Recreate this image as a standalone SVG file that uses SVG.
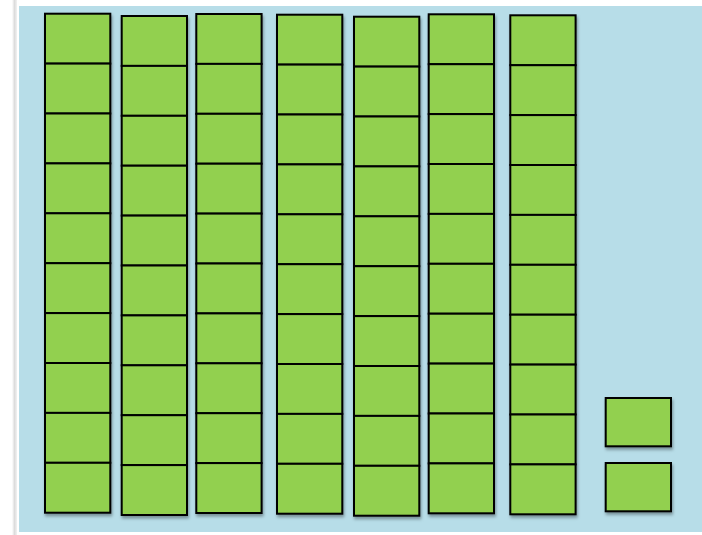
<svg xmlns="http://www.w3.org/2000/svg" width="702" height="535" viewBox="0 0 702 535">
<defs>
<style>
.cell{fill:#92D050;stroke:#000;stroke-width:2}
</style>
<filter id="sh" x="-10%" y="-10%" width="130%" height="130%">
<feDropShadow dx="1" dy="2.5" stdDeviation="1.6" flood-color="#000" flood-opacity="0.35"/>
</filter>
<linearGradient id="edge" x1="0" x2="1" y1="0" y2="0">
<stop offset="0" stop-color="#ffffff"/>
<stop offset="0.5" stop-color="#dcdcdc"/>
<stop offset="1" stop-color="#f2f2f2"/>
</linearGradient>
<g id="col">
<rect class="cell" x="0" y="0" width="65.3" height="49.9"/>
<rect class="cell" x="0" y="49.9" width="65.3" height="49.9"/>
<rect class="cell" x="0" y="99.8" width="65.3" height="49.9"/>
<rect class="cell" x="0" y="149.7" width="65.3" height="49.9"/>
<rect class="cell" x="0" y="199.6" width="65.3" height="49.9"/>
<rect class="cell" x="0" y="249.5" width="65.3" height="49.9"/>
<rect class="cell" x="0" y="299.4" width="65.3" height="49.9"/>
<rect class="cell" x="0" y="349.3" width="65.3" height="49.9"/>
<rect class="cell" x="0" y="399.2" width="65.3" height="49.9"/>
<rect class="cell" x="0" y="449.1" width="65.3" height="49.9"/>
</g>
</defs>
<rect x="0" y="0" width="702" height="535" fill="#ffffff"/>
<rect x="12" y="0" width="5" height="535" fill="url(#edge)"/>
<rect x="19" y="6" width="683" height="526" fill="#B7DDE8"/>
<g id="connectors"/>
<g id="column1" filter="url(#sh)"><use href="#col" x="45" y="13.7"/></g>
<g id="column2" filter="url(#sh)"><use href="#col" x="121.7" y="16"/></g>
<g id="column3" filter="url(#sh)"><use href="#col" x="196.3" y="14"/></g>
<g id="column4" filter="url(#sh)"><use href="#col" x="277" y="14.7"/></g>
<g id="column5" filter="url(#sh)"><use href="#col" x="354" y="16.7"/></g>
<g id="column6" filter="url(#sh)"><use href="#col" x="428.7" y="14.3"/></g>
<g id="column7" filter="url(#sh)"><use href="#col" x="510.3" y="15.3"/></g>
<g id="unit1" filter="url(#sh)"><rect class="cell" x="605.7" y="398" width="65.3" height="48.3"/></g>
<g id="unit2" filter="url(#sh)"><rect class="cell" x="605.7" y="463" width="65.3" height="48.3"/></g>
</svg>
